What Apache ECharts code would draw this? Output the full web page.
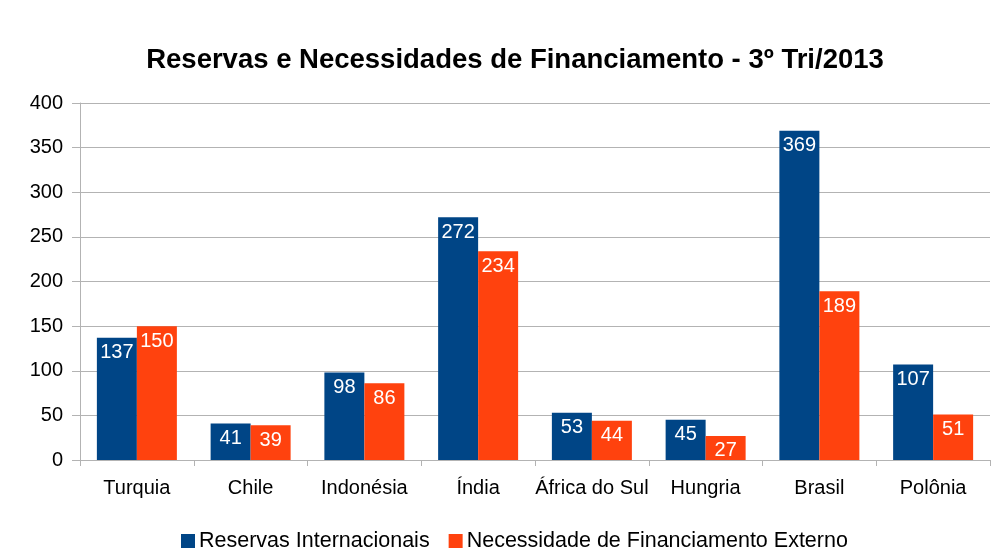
<!DOCTYPE html>
<html>
<head>
<meta charset="utf-8">
<script src="https://cdn.jsdelivr.net/npm/echarts@6/dist/echarts.min.js"></script>
<style>
html,body{margin:0;padding:0;background:#fff;}
#chart{width:995px;height:551px;}
</style>
</head>
<body>
<div id="chart"></div>
<script>
// Categories and values (US$ bilhões)
const categories = ['Turquia', 'Chile', 'Indonésia', 'Índia', 'África do Sul', 'Hungria', 'Brasil', 'Polônia'];
const reservas = [137, 41, 98, 272, 53, 45, 369, 107];
const necessidade = [150, 39, 86, 234, 44, 27, 189, 51];
const seriesNames = ['Reservas Internacionais', 'Necessidade de Financiamento Externo'];
const titleText = 'Reservas e Necessidades de Financiamento - 3º Tri/2013';

const chart = echarts.init(document.getElementById('chart'));
const labelStyle = {
  show: true,
  position: 'insideTop',
  distance: 5,
  color: '#ffffff',
  fontFamily: 'Liberation Sans',
  fontSize: 20
};
chart.setOption({
  animation: false,
  backgroundColor: '#ffffff',
  title: {
    text: titleText,
    left: 510,
    textAlign: 'center',
    top: 41,
    textStyle: {fontFamily: 'Liberation Sans', fontWeight: 'bold', fontSize: 27.5, color: '#000'}
  },
  legend: {
    bottom: -6,
    left: 176,
    itemWidth: 14,
    itemHeight: 14,
    itemGap: 19,
    icon: 'rect',
    textStyle: {fontFamily: 'Liberation Sans', fontSize: 21.5, color: '#000', padding: [0, 0, 0, -1]},
    data: seriesNames
  },
  grid: {left: 80, right: 5, top: 103, bottom: 91, containLabel: false},
  xAxis: {
    type: 'category',
    data: categories,
    axisLine: {lineStyle: {color: '#b3b3b3'}},
    axisTick: {show: true, length: 6, lineStyle: {color: '#b3b3b3'}},
    axisLabel: {color: '#000', fontFamily: 'Liberation Sans', fontSize: 20, margin: 18, interval: 0}
  },
  yAxis: {
    type: 'value',
    min: 0,
    max: 400,
    interval: 50,
    axisLine: {show: true, lineStyle: {color: '#b3b3b3'}},
    axisTick: {show: true, length: 8, lineStyle: {color: '#b3b3b3'}},
    splitLine: {lineStyle: {color: '#b3b3b3'}},
    axisLabel: {color: '#000', fontFamily: 'Liberation Sans', fontSize: 20, margin: 17}
  },
  color: ['#004586', '#ff420e'],
  series: [
    {name: seriesNames[0], type: 'bar', data: reservas, barWidth: 40, barGap: '0%', label: labelStyle},
    {name: seriesNames[1], type: 'bar', data: necessidade, barWidth: 40, barGap: '0%', label: labelStyle}
  ]
});
</script>
</body>
</html>
